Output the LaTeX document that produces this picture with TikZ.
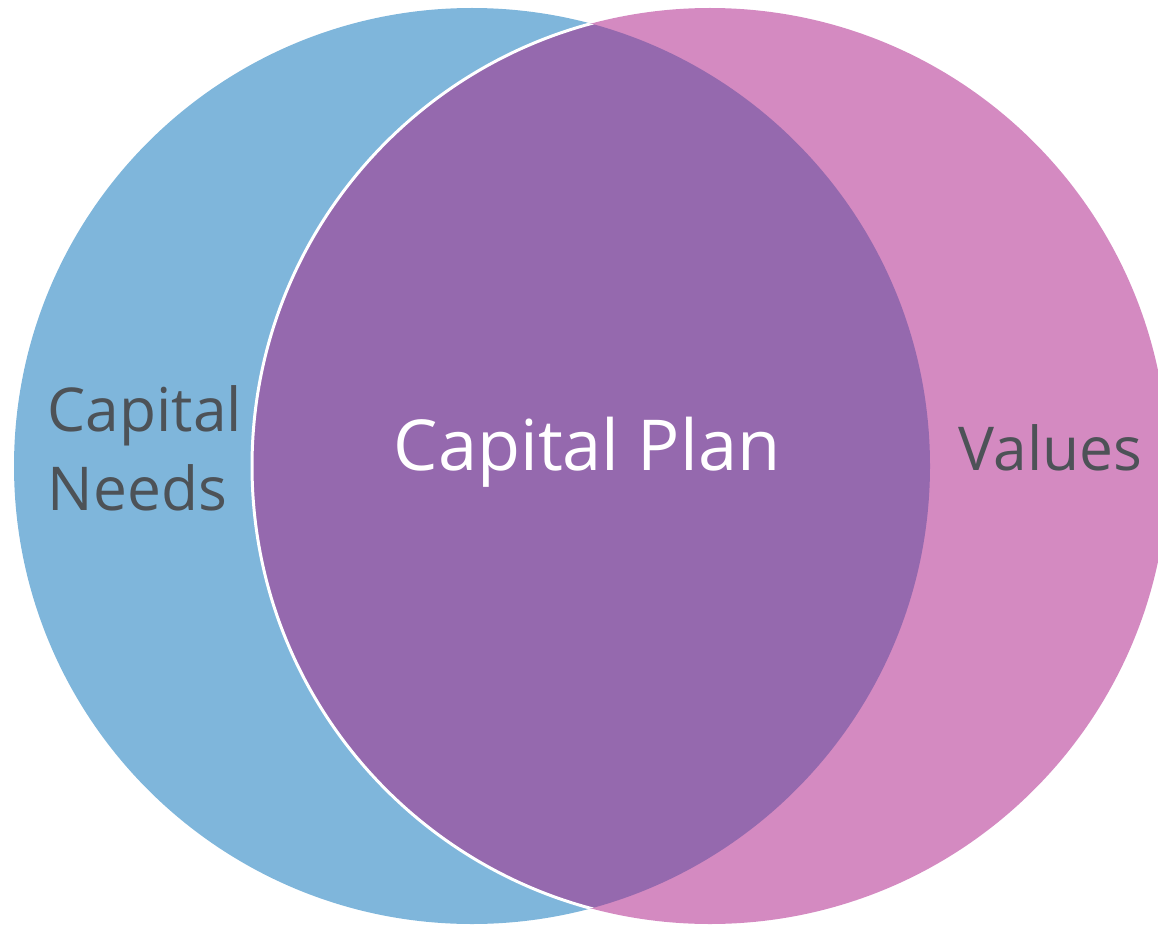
\documentclass[tikz,border=0pt]{standalone}
\usepackage{fontspec}
\setmainfont{Open Sans}
\usetikzlibrary{positioning}
\definecolor{needsblue}{HTML}{7FB6DB}
\definecolor{valuespink}{HTML}{D48AC1}
\definecolor{planpurple}{HTML}{9569AE}
\definecolor{labelgray}{HTML}{4D5257}

\begin{document}
\begin{tikzpicture}[
    set/.style={circle, minimum size=9.16cm, inner sep=0pt},
    outer label/.style={text=labelgray, font=\fontsize{17.2}{22.2}\selectfont, align=left, inner sep=0pt},
    plan label/.style={text=white, font=\fontsize{20}{24}\selectfont, inner sep=0pt}
  ]
  \useasboundingbox (0,0) rectangle (11.58,-9.24);

  % The two sets
  \node[set, fill=needsblue] (needs) at (4.72,-4.66) {};
  \node[set, fill=valuespink] (values) at (7.10,-4.66) {};

  % Overlap
  \begin{scope}
    \clip (needs.center) circle (4.58);
    \fill[planpurple] (values.center) circle (4.58);
    \draw[white, line width=0.85pt] (values.center) circle (4.58);
  \end{scope}

  % Labels
  \node[outer label, anchor=base west] (needstext) at (0.47,-5.10) {Capital\\Needs};
  \node[plan label, anchor=base] (plantext) at (5.87,-4.70) {Capital Plan};
  \node[outer label, anchor=base west] (valuestext) at (9.58,-4.70) {Values};
\end{tikzpicture}
\end{document}
